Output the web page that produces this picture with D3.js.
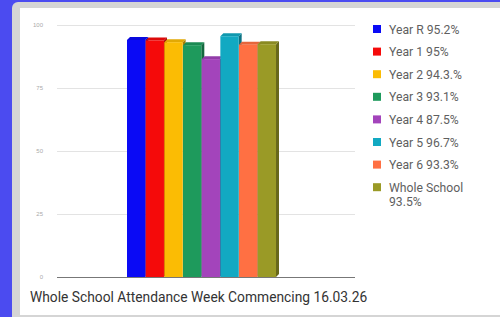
<!DOCTYPE html>
<html>
<head>
<meta charset="utf-8">
<script src="https://cdn.jsdelivr.net/npm/d3@7"></script>
<style>
  html, body { margin: 0; padding: 0; background: #4b4bf0; }
  svg { display: block; font-family: Roboto, "Noto Sans", sans-serif; }
</style>
</head>
<body>
<svg id="chart" width="500" height="317"></svg>
<script>
"use strict";

const years = ["Year R", "Year 1", "Year 2", "Year 3", "Year 4", "Year 5", "Year 6", "Whole School"];
const attendance = [95.2, 95, 94.3, 93.1, 87.5, 96.7, 93.3, 93.5];
const legendLabels = ["Year R 95.2%", "Year 1 95%", "Year 2 94.3.%", "Year 3 93.1%", "Year 4 87.5%", "Year 5 96.7%", "Year 6 93.3%", "Whole School\n93.5%"];
const barColors = ["#0a0af5", "#f50a0a", "#fbbc04", "#1e9a5c", "#a344bb", "#12a9c2", "#ff7043", "#9a9a26"];
const yTicks = [0, 25, 50, 75, 100];
const title = "Whole School Attendance Week Commencing 16.03.26";

const svg = d3.select("#chart");

// panel frame
svg.append("rect").attr("x", 12).attr("y", 2).attr("width", 500).attr("height", 330)
  .attr("rx", 6).attr("fill", "#d5d5d5");
svg.append("rect").attr("x", 20).attr("y", 8).attr("width", 480).attr("height", 307)
  .attr("fill", "#ffffff");

const dims = { left: 57, right: 355, top: 25, bottom: 277 };

// the 3D view pushes bar tops a little below the grid
const y = d3.scaleLinear().domain([0, 100]).range([dims.bottom, dims.top]);
const yBar = d3.scaleLinear().domain([0, 100]).range([dims.bottom, dims.top + 3]);
const x = d3.scaleBand().domain(years).range([127, 276]).paddingInner(0.02);

const yAxisGroup = svg.append("g").attr("transform", `translate(${dims.left}, 0)`);
yAxisGroup.call(d3.axisLeft(y).tickValues(yTicks).tickSize(-(dims.right - dims.left)).tickPadding(14));
yAxisGroup.select(".domain").remove();
yAxisGroup.selectAll(".tick line").attr("stroke", "#e3e3e3");
yAxisGroup.selectAll(".tick text").attr("fill", "#aaa").attr("font-size", 6);
yAxisGroup.selectAll(".tick").filter((d) => d === 0).select("line")
  .attr("stroke", "#777").attr("stroke-width", 1.2);

// 3D bars
const depth = 3;
const bars = svg.append("g").selectAll("g").data(years).join("g");

bars.append("path")
  .attr("d", (d, i) => {
    const x0 = x(d) + x.bandwidth(), y0 = yBar(attendance[i]), y1 = yBar(0);
    return `M${x0},${y0}L${x0 + depth},${y0 - depth}L${x0 + depth},${y1 - depth}L${x0},${y1}Z`;
  })
  .attr("fill", (d, i) => d3.color(barColors[i]).darker(1.1));

bars.append("path")
  .attr("d", (d, i) => {
    const x0 = x(d), x1 = x0 + x.bandwidth(), y0 = yBar(attendance[i]);
    return `M${x0},${y0}L${x0 + depth},${y0 - depth}L${x1 + depth},${y0 - depth}L${x1},${y0}Z`;
  })
  .attr("fill", (d, i) => d3.color(barColors[i]).darker(0.3));

bars.append("rect")
  .attr("x", (d) => x(d))
  .attr("y", (d, i) => yBar(attendance[i]))
  .attr("width", x.bandwidth())
  .attr("height", (d, i) => yBar(0) - yBar(attendance[i]))
  .attr("fill", (d, i) => barColors[i]);

// legend
const legend = svg.append("g").attr("transform", "translate(373, 29)");
const keyGroups = legend.selectAll("g").data(legendLabels).join("g")
  .attr("transform", (d, i) => `translate(0, ${i * 22.6})`);
keyGroups.append("rect").attr("x", 0).attr("y", -4).attr("width", 8).attr("height", 8)
  .attr("fill", (d, i) => barColors[i]);
keyGroups.selectAll("text").data((d) => d.split("\n")).join("text")
  .attr("x", 16).attr("y", (d, i) => 4.5 + i * 14.5)
  .attr("fill", "#5f5f5f").attr("font-size", 12.2)
  .text((d) => d);

svg.append("text").attr("x", 30).attr("y", 302)
  .attr("fill", "#333").attr("font-size", 13.8)
  .text(title);
</script>
</body>
</html>
